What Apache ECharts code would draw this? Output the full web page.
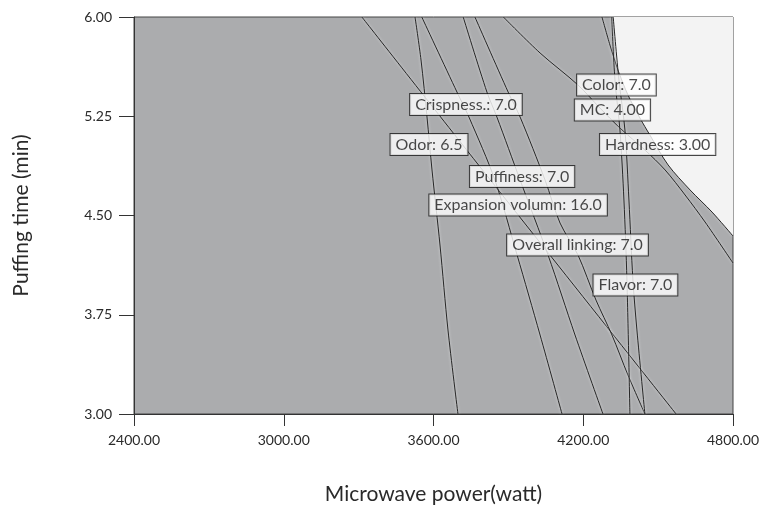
<!DOCTYPE html>
<html>
<head>
<meta charset="utf-8">
<script src="https://cdn.jsdelivr.net/npm/echarts@6/dist/echarts.min.js"></script>
<style>
html,body{margin:0;padding:0;background:#fff;}
#chart{width:759px;height:506px;}
</style>
</head>
<body>
<div id="chart"></div>
<script>
// Axis ticks
const xTickValues = [2400, 3000, 3600, 4200, 4800];
const xTickLabels = ["2400.00", "3000.00", "3600.00", "4200.00", "4800.00"];
const yTickValues = [3.00, 3.75, 4.50, 5.25, 6.00];
const yTickLabels = ["3.00", "3.75", "4.50", "5.25", "6.00"];

// Contour lines: [Microwave power, Puffing time]
const odorCurve = [[3526, 6.0], [3550, 5.675], [3574, 5.244], [3594, 4.844], [3626, 4.277], [3658, 3.635], [3698, 3.0]];
const crispnessCurve = [[3313, 6.0], [3774, 4.897], [4572, 3.0]];
const puffinessCurve = [[3553, 6.0], [3694, 5.433], [3742, 5.244], [3846, 4.768], [3935, 4.201], [4027, 3.597], [4115, 3.0]];
const expansionCurve = [[3719, 6.0], [3814, 5.433], [3854, 5.244], [3947, 4.768], [4059, 4.201], [4167, 3.597], [4279, 3.0]];
const flavorCurve = [[3766, 6.0], [3899, 5.433], [3947, 5.244], [4047, 4.768], [4107, 4.443], [4179, 4.201], [4251, 3.861], [4315, 3.597], [4379, 3.295], [4447, 3.0]];
const colorCurve = [[3880, 6.0], [4027, 5.728], [4179, 5.486], [4267, 5.312], [4347, 5.161], [4447, 4.995], [4528, 4.844], [4608, 4.655], [4688, 4.451], [4800, 4.141]];
const hardnessCurve = [[4275, 6.0], [4307, 5.788], [4339, 5.600], [4379, 5.411], [4427, 5.237], [4467, 5.108], [4540, 4.882], [4628, 4.693], [4716, 4.526], [4800, 4.345]];
const mcCurve = [[4314, 6.0], [4327, 5.524], [4347, 5.146], [4363, 4.617], [4375, 4.013], [4387, 3.0]];
const overallCurve = [[4320, 6.0], [4343, 5.524], [4367, 5.146], [4383, 4.617], [4399, 4.013], [4415, 3.635], [4447, 3.0]];

// Boundary of the feasible (light) region
const feasibleEdge = [[4320, 6.0], [4331, 5.675], [4339, 5.600], [4379, 5.411], [4427, 5.237], [4467, 5.108], [4540, 4.882], [4628, 4.693], [4716, 4.526], [4800, 4.345]];

// Contour flags
const flagNames = ["Color: 7.0", "Crispness.: 7.0", "MC: 4.00", "Odor: 6.5", "Hardness: 3.00", "Puffiness: 7.0", "Expansion volumn: 16.0", "Overall linking: 7.0", "Flavor: 7.0"];
const flagX = [4333, 3730, 4317, 3582, 4498, 3955, 3939, 4177, 4409];
const flagY = [5.486, 5.339, 5.297, 5.037, 5.037, 4.795, 4.579, 4.277, 3.975];

const FONT = 'Lato, "Open Sans", sans-serif';
const lineStyle = {
  color: '#262626', width: 1,
  shadowColor: 'rgba(255,255,255,0.75)', shadowBlur: 3
};
function contour(name, data) {
  return {
    name: name, type: 'line', data: data, showSymbol: false, smooth: 0.3,
    lineStyle: lineStyle, z: 3, silent: true, animation: false
  };
}

const chart = echarts.init(document.getElementById('chart'), null, {renderer: 'canvas'});
chart.setOption({
  animation: false,
  backgroundColor: '#ffffff',
  grid: {
    left: 134, right: 26, top: 17, bottom: 92,
    containLabel: false, outerBoundsMode: 'none',
    show: true, backgroundColor: '#abacae', borderColor: '#444', borderWidth: 1
  },
  xAxis: {
    type: 'value', min: 2400, max: 4800, interval: 600,
    name: 'Microwave power(watt)', nameLocation: 'middle', nameGap: 70,
    nameTextStyle: {fontFamily: FONT, fontSize: 21, color: '#2a2a2a'},
    axisLine: {show: true, lineStyle: {color: '#333', width: 1}},
    axisTick: {show: true, length: 12, lineStyle: {color: '#333'}},
    axisLabel: {
      margin: 19, fontFamily: FONT, fontSize: 14, color: '#2a2a2a',
      formatter: v => { const i = xTickValues.indexOf(v); return i >= 0 ? xTickLabels[i] : ''; }
    },
    splitLine: {show: false}
  },
  yAxis: {
    type: 'value', min: 3, max: 6, interval: 0.75,
    name: 'Puffing time (min)', nameLocation: 'middle', nameGap: 102,
    nameTextStyle: {fontFamily: FONT, fontSize: 21, color: '#2a2a2a'},
    axisLine: {show: true, lineStyle: {color: '#333', width: 1}},
    axisTick: {show: true, length: 15, lineStyle: {color: '#333'}},
    axisLabel: {
      margin: 22, fontFamily: FONT, fontSize: 14, color: '#2a2a2a',
      formatter: v => { const i = yTickValues.findIndex(t => Math.abs(t - v) < 1e-6); return i >= 0 ? yTickLabels[i] : ''; }
    },
    splitLine: {show: false}
  },
  series: [
    {
      name: 'feasible', type: 'line', data: feasibleEdge, showSymbol: false, smooth: 0.3,
      lineStyle: {width: 0}, areaStyle: {origin: 'end', color: '#f3f3f3', opacity: 1},
      z: 2, silent: true
    },
    contour('Odor', odorCurve),
    contour('Crispness', crispnessCurve),
    contour('Puffiness', puffinessCurve),
    contour('Expansion volumn', expansionCurve),
    contour('Flavor', flavorCurve),
    contour('Color', colorCurve),
    contour('Hardness', hardnessCurve),
    contour('MC', mcCurve),
    contour('Overall linking', overallCurve),
    {
      name: 'flags', type: 'scatter', symbolSize: 0, z: 10, silent: true,
      data: flagNames.map((n, i) => ({value: [flagX[i], flagY[i]], name: n})),
      label: {
        show: true, position: 'inside', formatter: p => p.name,
        fontFamily: FONT, fontSize: 16, color: '#1a1a1a',
        backgroundColor: '#ffffff', borderColor: '#1a1a1a', borderWidth: 1,
        padding: [2, 5, 1, 5], lineHeight: 18
      }
    }
  ]
});
</script>
</body>
</html>
